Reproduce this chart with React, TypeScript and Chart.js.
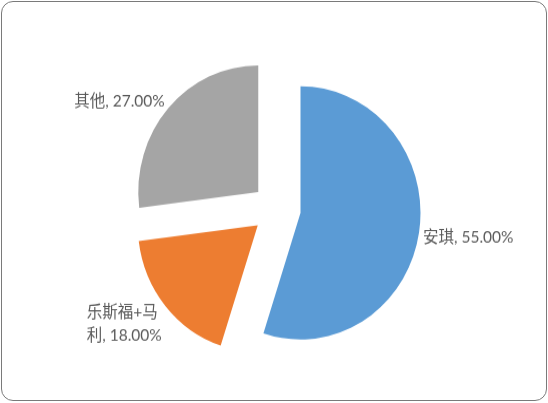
import React, { useEffect, useRef } from "react";
import { Chart, registerables } from "chart.js";

Chart.register(...registerables);

const categories = ["安琪", "乐斯福+马利", "其他"];
const shares = [55, 18, 27];
const sliceColors = ["#5B9BD5", "#ED7D31", "#A5A5A5"];
// character index at which a label wraps onto a second line (0 = no wrap)
const labelBreaks = [0, 5, 0];

const PAGE_W = 548;
const PAGE_H = 403;
const STRETCH = 1.055; // reference pie is slightly taller than wide
const CANVAS_H = Math.round(PAGE_H / STRETCH);
const EXPLODE = 24.3;
const RADIUS = 120;
const FONT = '15.5px Lato, "Noto Sans CJK SC", sans-serif';
const LINE_H = 21.7;

const explodePlugin = {
  id: "explode",
  beforeDatasetsDraw(chart: any) {
    const ctx = chart.ctx;
    const meta = chart.getDatasetMeta(0);
    meta.data.forEach((arc: any) => {
      const mid = (arc.startAngle + arc.endAngle) / 2;
      ctx.save();
      ctx.translate(Math.cos(mid) * EXPLODE, Math.sin(mid) * EXPLODE);
      arc.draw(ctx);
      ctx.restore();
    });
    return false;
  },
  afterDraw(chart: any) {
    const ctx = chart.ctx;
    const meta = chart.getDatasetMeta(0);
    ctx.save();
    ctx.font = FONT;
    ctx.fillStyle = "#595959";
    ctx.textBaseline = "middle";
    meta.data.forEach((arc: any, i: number) => {
      const mid = (arc.startAngle + arc.endAngle) / 2;
      const dx = Math.cos(mid);
      const dy = Math.sin(mid);
      const r = arc.outerRadius + 2;
      const px = arc.x + dx * (EXPLODE + r);
      const py = arc.y + dy * (EXPLODE + r);
      const full = `${categories[i]}, ${shares[i].toFixed(2)}%`;
      const b = labelBreaks[i];
      const lines = b ? [full.slice(0, b), full.slice(b)] : [full];
      const h = lines.length * LINE_H;
      const cy = py + dy * (h / 2) + 2;
      const right = dx >= 0;
      ctx.textAlign = "left";
      const blockW = Math.max(...lines.map((ln) => ctx.measureText(ln).width));
      const x = right ? px + 2 : px - 2 - blockW;
      lines.forEach((ln, k) => {
        ctx.fillText(ln, x, cy - h / 2 + LINE_H * (k + 0.5));
      });
    });
    ctx.restore();
  },
};

export default function App() {
  const ref = useRef<HTMLCanvasElement>(null);

  useEffect(() => {
    document.body.style.margin = "0";
    const canvas = ref.current!;
    const chart = new Chart(canvas, {
      type: "pie",
      data: {
        labels: categories,
        datasets: [
          {
            data: shares,
            backgroundColor: sliceColors,
            borderWidth: 0,
          },
        ],
      },
      options: {
        responsive: false,
        animation: false,
        devicePixelRatio: 1,
        radius: RADIUS,
        layout: { padding: { left: 40, right: 35, top: 40, bottom: 26 } },
        plugins: {
          legend: { display: false },
          tooltip: { enabled: false },
        },
        events: [],
      } as any,
      plugins: [explodePlugin as any],
    });
    return () => chart.destroy();
  }, []);

  return (
    <div style={{ position: "relative", width: PAGE_W, height: PAGE_H, background: "#fff" }}>
      <canvas
        ref={ref}
        width={PAGE_W}
        height={CANVAS_H}
        style={{ display: "block", width: PAGE_W + "px", height: PAGE_H + "px" }}
      />
      <div
        style={{
          position: "absolute",
          left: 1,
          top: 1,
          width: 546,
          height: 400,
          boxSizing: "border-box",
          border: "1.5px solid #7a7a7a",
          borderRadius: 12,
          pointerEvents: "none",
        }}
      />
    </div>
  );
}
